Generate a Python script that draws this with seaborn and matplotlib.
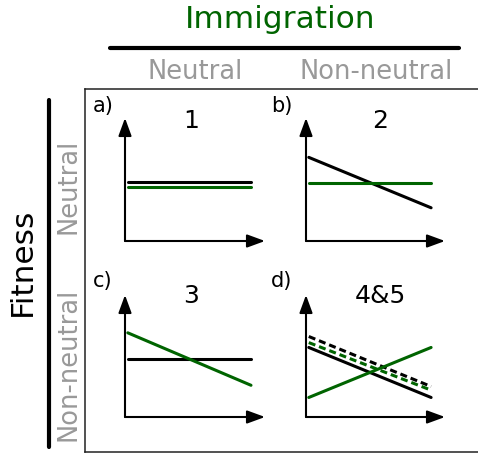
import matplotlib
matplotlib.use("Agg")
import matplotlib.pyplot as plt
from matplotlib.lines import Line2D
import seaborn as sns
import pandas as pd

sns.set_theme(style="white")
plt.rcParams['font.family'] = ['DejaVu Sans']
plt.rcParams['text.color'] = 'black'

W, H = 478, 453
GREEN = "#006400"
GREY = "#999999"

# ---- data ----
x_pts = [0.02, 0.9]
panel_labels = ["a)", "b)", "c)", "d)"]
panel_titles = ["1", "2", "3", "4&5"]
col_labels = ["Neutral", "Non-neutral"]
row_labels = ["Neutral", "Non-neutral"]

a_black = [0.48, 0.48]
a_green = [0.44, 0.44]
b_black = [0.68, 0.27]
b_green = [0.47, 0.47]
c_black = [0.475, 0.475]
c_green = [0.69, 0.26]
d_black = [0.57, 0.16]
d_black_dash = [0.66, 0.25]
d_green_dash = [0.61, 0.22]
d_green = [0.16, 0.57]

panels = [
    [(a_black, "black", "-"), (a_green, GREEN, "-")],
    [(b_black, "black", "-"), (b_green, GREEN, "-")],
    [(c_black, "black", "-"), (c_green, GREEN, "-")],
    [(d_black, "black", "-"), (d_black_dash, "black", "--"),
     (d_green_dash, GREEN, "--"), (d_green, GREEN, "-")],
]

fig = plt.figure(figsize=(W / 100, H / 100), dpi=100)


def fx(x):
    return x / W


def fy(y):
    return 1 - y / H


# outer box
box = fig.add_axes([fx(85), fy(452), fx(480) - fx(85), fy(89) - fy(452)])
box.set_xticks([]); box.set_yticks([])
box.set_facecolor("none")
for s in box.spines.values():
    s.set_color("#222222"); s.set_linewidth(1.1)

# panel axes: (origin x, origin y, x tip, y tip)
geo = [(125, 241, 265, 118), (306, 241, 445, 118),
       (125, 417, 265, 295), (306, 417, 445, 295)]
label_pos = [(93, 106), (271, 106), (93, 281), (271, 281)]
title_pos = [(191, 121), (380, 121), (191, 296), (380, 296)]

for i, (ox, oy, tx, ty) in enumerate(geo):
    ax = fig.add_axes([fx(ox), fy(oy), fx(tx) - fx(ox), fy(ty) - fy(oy)])
    ax.set_xlim(0, 1); ax.set_ylim(0, 1)
    ax.set_facecolor("none")
    for s in ax.spines.values():
        s.set_visible(False)
    ax.set_xticks([]); ax.set_yticks([])
    for vals, col, ls in panels[i]:
        df = pd.DataFrame({"x": x_pts, "y": vals})
        style = (0, (2.3, 1.3)) if ls == "--" else "-"
        sns.lineplot(data=df, x="x", y="y", color=col, linestyle=style,
                     lw=2.2, ax=ax)
    ax.set_xlabel(""); ax.set_ylabel("")
    ap = dict(arrowstyle="-|>,head_length=0.9,head_width=0.33", lw=1.5,
              color="black", shrinkA=0, shrinkB=0)
    ax.annotate("", xy=(1, 0), xytext=(0, 0), xycoords="axes fraction",
                arrowprops=ap, annotation_clip=False)
    ax.annotate("", xy=(0, 1), xytext=(0, 0), xycoords="axes fraction",
                arrowprops=ap, annotation_clip=False)
    lx, ly = label_pos[i]
    fig.text(fx(lx), fy(ly), panel_labels[i], fontsize=15, ha="left",
             va="center", color="black")
    tx2, ty2 = title_pos[i]
    fig.text(fx(tx2), fy(ty2), panel_titles[i], fontsize=18, ha="center",
             va="center", color="black")

# headers
fig.text(fx(280), fy(19), "Immigration", color=GREEN, fontsize=22.5,
         ha="center", va="center")
fig.add_artist(Line2D([fx(110), fx(459)], [fy(48), fy(48)], color="black",
                      lw=3, transform=fig.transFigure))
fig.text(fx(195), fy(72), col_labels[0], color=GREY, fontsize=18.5,
         ha="center", va="center")
fig.text(fx(376), fy(72), col_labels[1], color=GREY, fontsize=18.5,
         ha="center", va="center")

fig.text(fx(22), fy(262), "Fitness", color="black", fontsize=22.5,
         rotation=90, ha="center", va="center")
fig.add_artist(Line2D([fx(49), fx(49)], [fy(100), fy(447)], color="black",
                      lw=3, transform=fig.transFigure))
fig.text(fx(68), fy(186), row_labels[0], color=GREY, fontsize=18.5,
         rotation=90, ha="center", va="center")
fig.text(fx(68), fy(364), row_labels[1], color=GREY, fontsize=18.5,
         rotation=90, ha="center", va="center")

fig.savefig("out.png", dpi=100)
